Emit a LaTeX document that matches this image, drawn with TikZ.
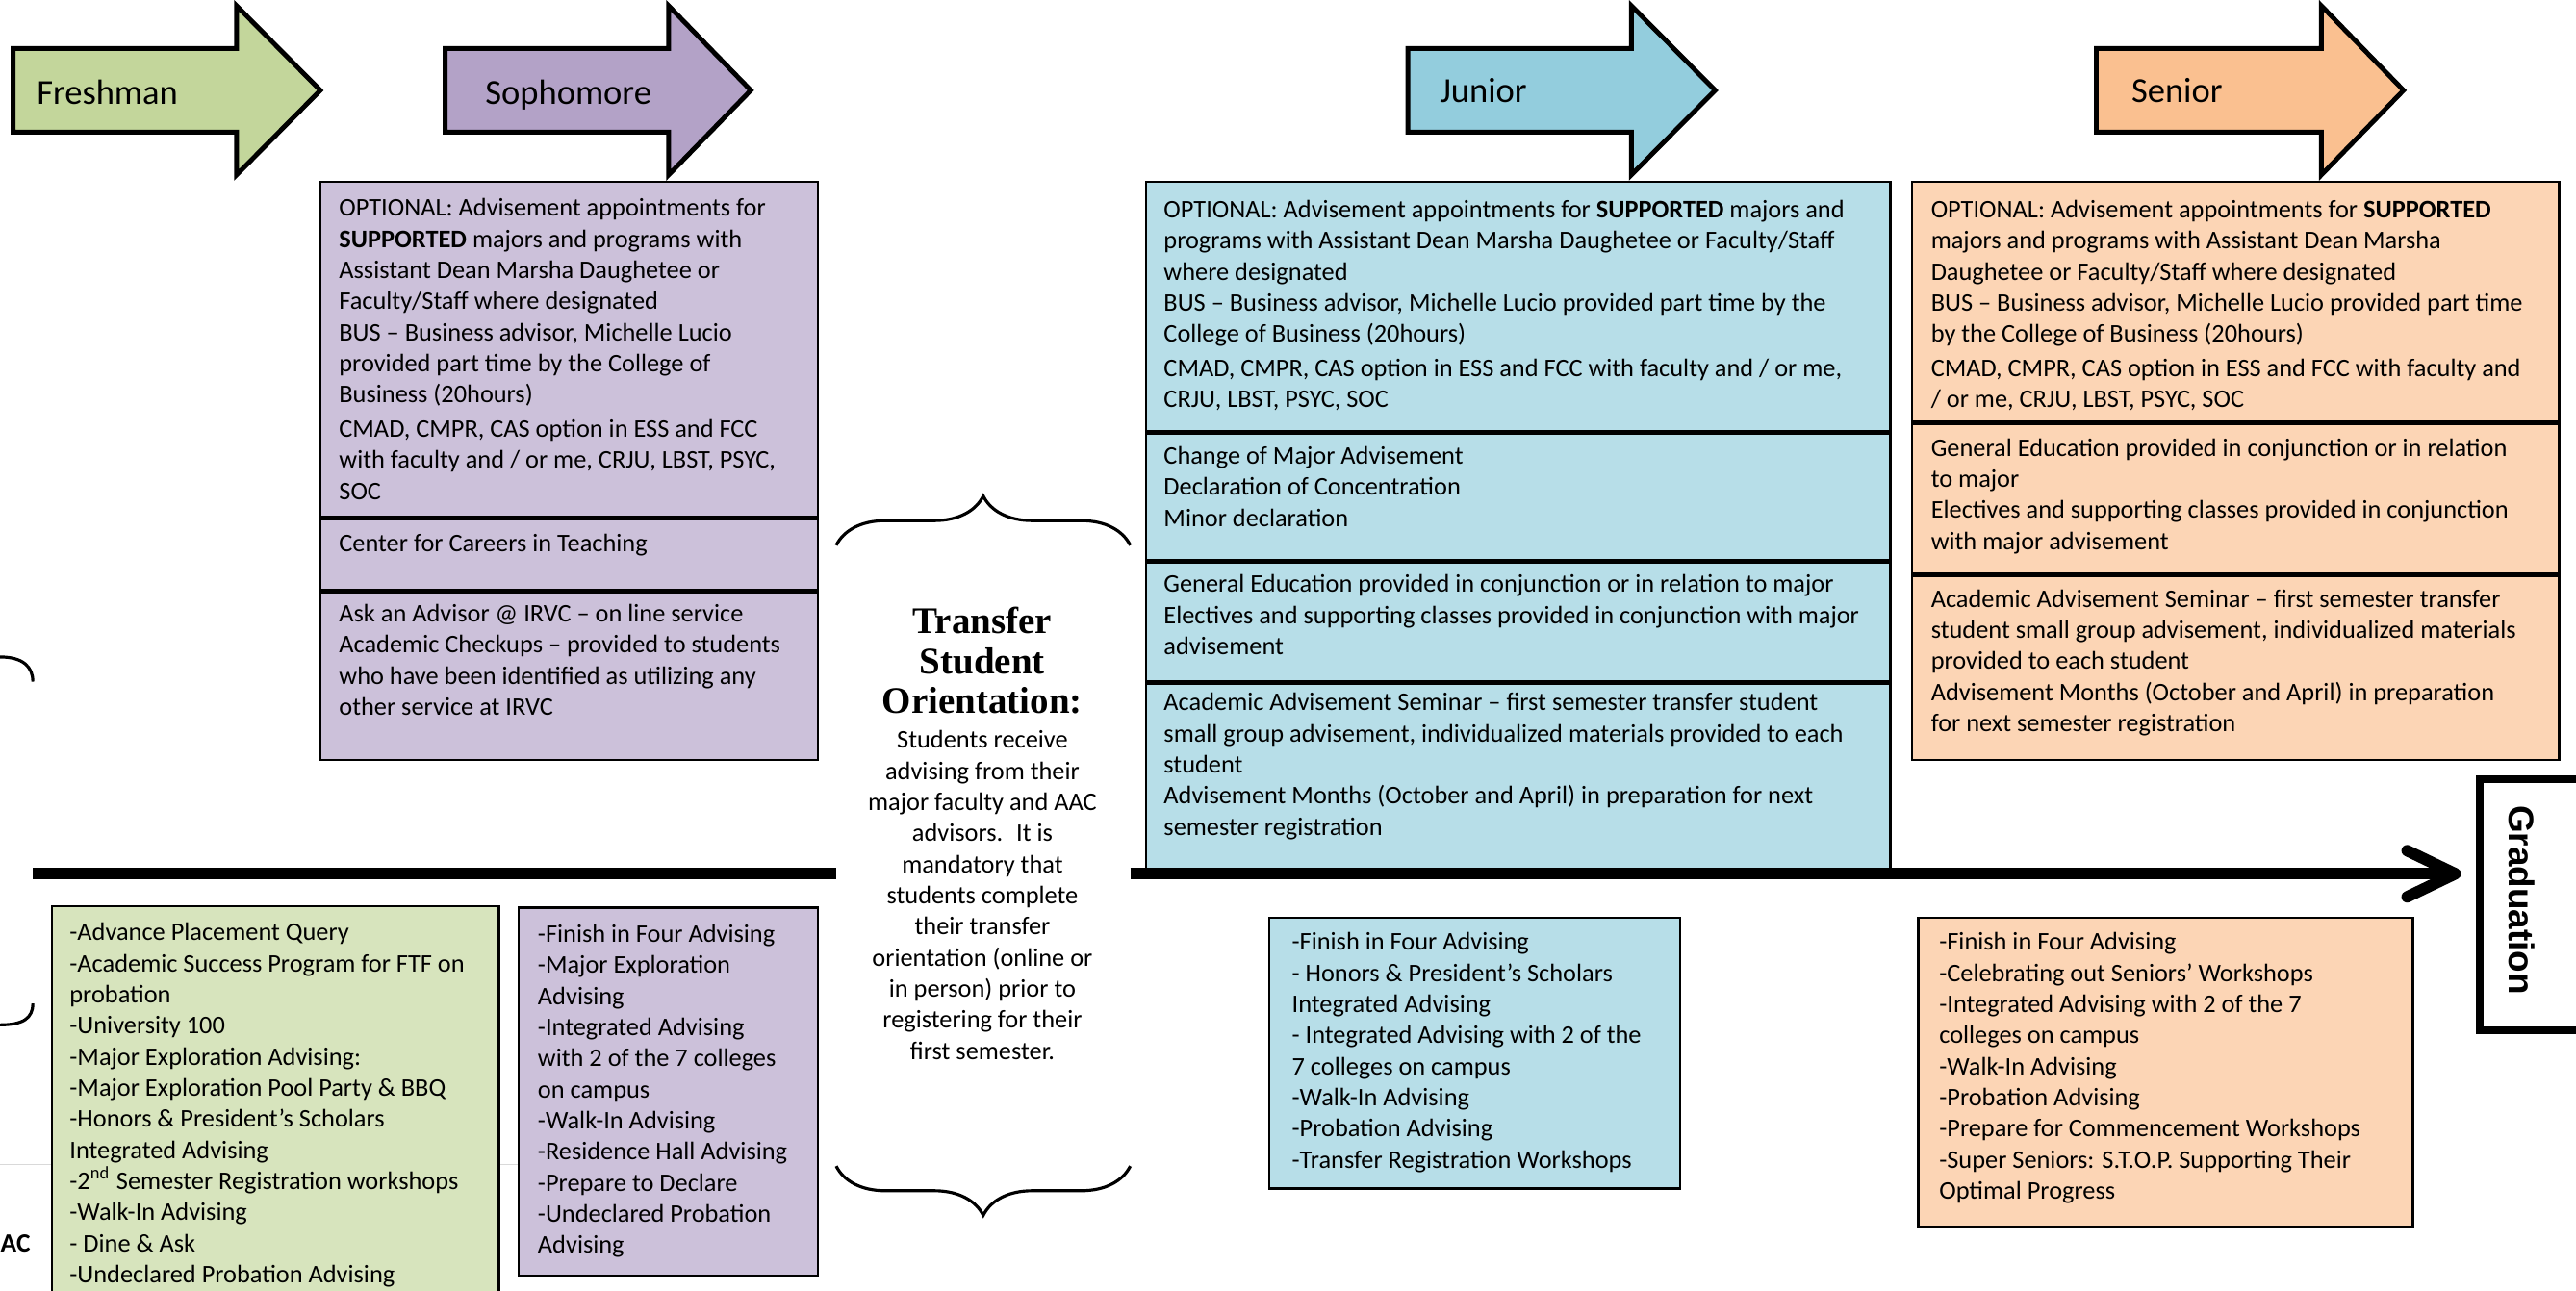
\documentclass[tikz,border=0pt]{standalone}
\usepackage{fontspec}
\setmainfont{Carlito}
\newfontfamily\titlefont{Liberation Serif}
\newfontfamily\gradfont{Liberation Sans}
\usetikzlibrary{arrows.meta, decorations.pathreplacing}

\definecolor{frarrow}{HTML}{C3D69B}
\definecolor{soarrow}{HTML}{B3A2C7}
\definecolor{juarrow}{HTML}{93CDDD}
\definecolor{searrow}{HTML}{FAC090}
\definecolor{frbox}{HTML}{D7E4BD}
\definecolor{sobox}{HTML}{CCC1DA}
\definecolor{jubox}{HTML}{B7DEE8}
\definecolor{sebox}{HTML}{FCD5B5}

\newlength{\px}
\setlength{\px}{0.017073cm}

\begin{document}
\begin{tikzpicture}[x=0.017073cm, y=-0.017073cm]
  \tikzstyle{phase} = [draw=black, line width=1.4pt]
  \tikzstyle{phaselbl} = [anchor=base west, inner sep=0pt, font=\fontsize{10.4}{12}\selectfont]
  \tikzstyle{sec} = [draw=black, line width=0.7pt, anchor=north west, inner sep=0pt]
  \tikzstyle{txt} = [anchor=north west, inner sep=0pt, align=left, font=\fontsize{7.5}{9.2}\selectfont]
  \tikzstyle{timeline} = [line width=3.4pt]
  \tikzstyle{curly} = [line width=0.9pt, decorate, decoration={brace, amplitude=30\px}]

  \useasboundingbox (0,0) rectangle (1568,786);

  % year arrows
  \draw[phase, fill=frarrow] (8,29.5) -- (144,29.5) -- (144,3.5) -- (195,55) -- (144,106.5) -- (144,80.5) -- (8,80.5) -- cycle;
  \draw[phase, fill=soarrow] (271,29.5) -- (407,29.5) -- (407,3.5) -- (457,55) -- (407,106.5) -- (407,80.5) -- (271,80.5) -- cycle;
  \draw[phase, fill=juarrow] (857,29.5) -- (993,29.5) -- (993,3.5) -- (1044,55) -- (993,106.5) -- (993,80.5) -- (857,80.5) -- cycle;
  \draw[phase, fill=searrow] (1276,29.5) -- (1413,29.5) -- (1413,3.5) -- (1463,55) -- (1413,106.5) -- (1413,80.5) -- (1276,80.5) -- cycle;
  \node[phaselbl] (frlbl) at (22,63.5) {Freshman};
  \node[phaselbl] (solbl) at (295,63.5) {Sophomore};
  \node[phaselbl] (julbl) at (876,62.5) {Junior};
  \node[phaselbl] (selbl) at (1297,62.5) {Senior};

  % sophomore, upper boxes
  \node[sec, fill=sobox, minimum width=303\px, minimum height=204\px] (so1) at (194,110) {};
  \node[sec, fill=sobox, minimum width=303\px, minimum height=43\px] (so2) at (so1.south west) {};
  \node[sec, fill=sobox, minimum width=303\px, minimum height=102\px] (so3) at (so2.south west) {};
  \node[txt] (so1t) at (206,118) {\strut OPTIONAL: Advisement appointments for\\
    \textbf{SUPPORTED} majors and programs with\\
    Assistant Dean Marsha Daughetee or\\
    Faculty/Staff where designated\\
    BUS – Business advisor, Michelle Lucio\\
    provided part time by the College of\\
    Business (20hours)\\[2\px]
    CMAD, CMPR, CAS option in ESS and FCC\\
    with faculty and / or me, CRJU, LBST, PSYC,\\
    SOC};
  \node[txt] (so2t) at (206,322) {\strut Center for Careers in Teaching};
  \node[txt] (so3t) at (206,365) {\strut Ask an Advisor @ IRVC – on line service\\
    Academic Checkups – provided to students\\
    who have been identified as utilizing any\\
    other service at IRVC};

  % junior, upper boxes
  \node[sec, fill=jubox, minimum width=453\px, minimum height=152\px] (ju1) at (697,110) {};
  \node[sec, fill=jubox, minimum width=453\px, minimum height=77\px] (ju2) at (ju1.south west) {};
  \node[sec, fill=jubox, minimum width=453\px, minimum height=72\px] (ju3) at (ju2.south west) {};
  \node[sec, fill=jubox, minimum width=453\px, minimum height=114\px] (ju4) at (ju3.south west) {};
  \node[txt] (ju1t) at (708,119) {\strut OPTIONAL: Advisement appointments for \textbf{SUPPORTED} majors and\\
    programs with Assistant Dean Marsha Daughetee or Faculty/Staff\\
    where designated\\
    BUS – Business advisor, Michelle Lucio provided part time by the\\
    College of Business (20hours)\\[2\px]
    CMAD, CMPR, CAS option in ESS and FCC with faculty and / or me,\\
    CRJU, LBST, PSYC, SOC};
  \node[txt] (ju2t) at (708,269) {\strut Change of Major Advisement\\
    Declaration of Concentration\\
    Minor declaration};
  \node[txt] (ju3t) at (708,347) {\strut General Education provided in conjunction or in relation to major\\
    Electives and supporting classes provided in conjunction with major\\
    advisement};
  \node[txt] (ju4t) at (708,419) {\strut Academic Advisement Seminar – first semester transfer student\\
    small group advisement, individualized materials provided to each\\
    student\\
    Advisement Months (October and April) in preparation for next\\
    semester registration};

  % senior, upper boxes
  \node[sec, fill=sebox, minimum width=394\px, minimum height=146\px] (se1) at (1163,110) {};
  \node[sec, fill=sebox, minimum width=394\px, minimum height=91\px] (se2) at (se1.south west) {};
  \node[sec, fill=sebox, minimum width=394\px, minimum height=112\px] (se3) at (se2.south west) {};
  \node[txt] (se1t) at (1175,119) {\strut OPTIONAL: Advisement appointments for \textbf{SUPPORTED}\\
    majors and programs with Assistant Dean Marsha\\
    Daughetee or Faculty/Staff where designated\\
    BUS – Business advisor, Michelle Lucio provided part time\\
    by the College of Business (20hours)\\[2\px]
    CMAD, CMPR, CAS option in ESS and FCC with faculty and\\
    / or me, CRJU, LBST, PSYC, SOC};
  \node[txt] (se2t) at (1175,264) {\strut General Education provided in conjunction or in relation\\
    to major\\
    Electives and supporting classes provided in conjunction\\
    with major advisement};
  \node[txt] (se3t) at (1175,356) {\strut Academic Advisement Seminar – first semester transfer\\
    student small group advisement, individualized materials\\
    provided to each student\\
    Advisement Months (October and April) in preparation\\
    for next semester registration};

  % transfer orientation
  \draw[curly] (509,332) -- (688,332);
  \draw[curly] (688,710) -- (509,710);
  \node[align=center, inner sep=0pt, anchor=north, font=\titlefont\bfseries\fontsize{11.1}{11.9}\selectfont] (tsot) at (598,368) {\strut Transfer\\ Student\\ Orientation:};
  \node[txt, align=center, anchor=north] (tsob) at (598,442) {\strut Students receive\\
    advising from their\\
    major faculty and AAC\\
    advisors.~ It is\\
    mandatory that\\
    students complete\\
    their transfer\\
    orientation (online or\\
    in person) prior to\\
    registering for their\\
    first semester.};

  % left edge pieces
  \draw[line width=0.9pt] (0,400) .. controls (14,400) and (20,406) .. (20,415);
  \draw[line width=0.9pt] (20,611) .. controls (20,620) and (14,624) .. (0,624);
  \draw[black!15, line width=0.4pt] (0,709) -- (31,709);
  \draw[black!15, line width=0.4pt] (303,709) -- (315,709);
  \node[anchor=west, inner sep=0pt, font=\bfseries\fontsize{7.8}{9}\selectfont] (aac) at (0,757) {AC};

  % graduation and time line
  \node[draw, line width=2.2pt, anchor=north west, inner sep=0pt, minimum width=100\px, minimum height=153\px] (grad) at (1507,472) {};
  \node[rotate=-90, inner sep=0pt, font=\gradfont\bfseries\fontsize{10.5}{12}\selectfont] (gradlbl) at (1535,548) {Graduation};
  \coordinate (tl0) at (20,532);
  \coordinate (tl1) at (509,532);
  \coordinate (tl2) at (688,532);
  \draw[timeline] (tl0) -- (tl1);
  \draw[timeline, -{Straight Barb[length=0.5cm, width=0.48cm, round]}, shorten >=9\px] (tl2) -- (tl2 -| grad.west);

  % lower boxes
  \node[sec, fill=frbox, minimum width=272\px, minimum height=260\px] (frb) at (31,551) {};
  \node[sec, fill=sobox, minimum width=182\px, minimum height=224\px] (sob) at (315,552) {};
  \node[sec, fill=jubox, minimum width=250\px, minimum height=165\px] (jub) at (772,558) {};
  \node[sec, fill=sebox, minimum width=301\px, minimum height=188\px] (seb) at (1167,558) {};
  \node[txt] (frbt) at (42,559) {\strut -Advance Placement Query\\
    -Academic Success Program for FTF on\\
    probation\\
    -University 100\\
    -Major Exploration Advising:\\
    -Major Exploration Pool Party \& BBQ\\
    -Honors \& President’s Scholars\\
    Integrated Advising\\
    -2\textsuperscript{nd} Semester Registration workshops\\
    -Walk-In Advising\\
    - Dine \& Ask\\
    -Undeclared Probation Advising};
  \node[txt] (sobt) at (327,560) {\strut -Finish in Four Advising\\
    -Major Exploration\\
    Advising\\
    -Integrated Advising\\
    with 2 of the 7 colleges\\
    on campus\\
    -Walk-In Advising\\
    -Residence Hall Advising\\
    -Prepare to Declare\\
    -Undeclared Probation\\
    Advising};
  \node[txt] (jubt) at (786,565) {\strut -Finish in Four Advising\\
    - Honors \& President’s Scholars\\
    Integrated Advising\\
    - Integrated Advising with 2 of the\\
    7 colleges on campus\\
    -Walk-In Advising\\
    -Probation Advising\\
    -Transfer Registration Workshops};
  \node[txt] (sebt) at (1180,565) {\strut -Finish in Four Advising\\
    -Celebrating out Seniors’ Workshops\\
    -Integrated Advising with 2 of the 7\\
    colleges on campus\\
    -Walk-In Advising\\
    -Probation Advising\\
    -Prepare for Commencement Workshops\\
    -Super Seniors: S.T.O.P. Supporting Their\\
    Optimal Progress};
\end{tikzpicture}
\end{document}
